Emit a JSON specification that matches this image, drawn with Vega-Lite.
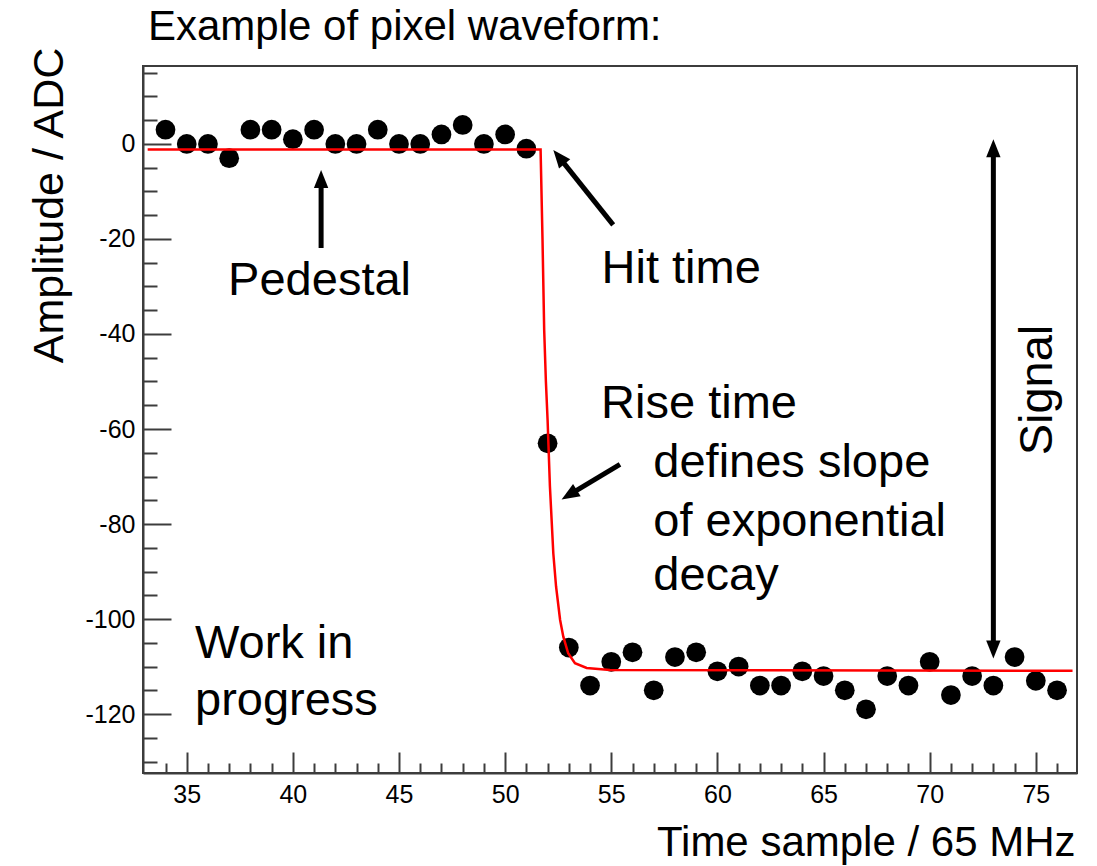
{
  "$schema": "https://vega.github.io/schema/vega-lite/v6.json",
  "width": 934,
  "height": 707,
  "autosize": {"type": "none"},
  "padding": {"left": 143, "top": 66, "right": 20, "bottom": 93},
  "background": "white",
  "config": {
    "view": {"stroke": "#3c3c3c", "strokeWidth": 2},
    "font": "Liberation Sans"
  },
  "title": {
    "text": "Example of pixel waveform:",
    "anchor": "start",
    "frame": "group",
    "orient": "top",
    "fontSize": 42,
    "fontWeight": "normal",
    "font": "Liberation Sans",
    "color": "black",
    "baseline": "alphabetic",
    "offset": 6,
    "dx": 5,
    "dy": 42
  },
  "datasets": {
    "samples": [
      {"t": 34, "adc": 3}, {"t": 35, "adc": 0}, {"t": 36, "adc": 0}, {"t": 37, "adc": -3},
      {"t": 38, "adc": 3}, {"t": 39, "adc": 3}, {"t": 40, "adc": 1}, {"t": 41, "adc": 3},
      {"t": 42, "adc": 0}, {"t": 43, "adc": 0}, {"t": 44, "adc": 3}, {"t": 45, "adc": 0},
      {"t": 46, "adc": 0}, {"t": 47, "adc": 2}, {"t": 48, "adc": 4}, {"t": 49, "adc": 0},
      {"t": 50, "adc": 2}, {"t": 51, "adc": -1}, {"t": 52, "adc": -63}, {"t": 53, "adc": -106},
      {"t": 54, "adc": -114}, {"t": 55, "adc": -109}, {"t": 56, "adc": -107}, {"t": 57, "adc": -115},
      {"t": 58, "adc": -108}, {"t": 59, "adc": -107}, {"t": 60, "adc": -111}, {"t": 61, "adc": -110},
      {"t": 62, "adc": -114}, {"t": 63, "adc": -114}, {"t": 64, "adc": -111}, {"t": 65, "adc": -112},
      {"t": 66, "adc": -115}, {"t": 67, "adc": -119}, {"t": 68, "adc": -112}, {"t": 69, "adc": -114},
      {"t": 70, "adc": -109}, {"t": 71, "adc": -116}, {"t": 72, "adc": -112}, {"t": 73, "adc": -114},
      {"t": 74, "adc": -108}, {"t": 75, "adc": -113}, {"t": 76, "adc": -115}
    ],
    "fit": [
      {"t": 33.16, "adc": -1.2}, {"t": 51.67, "adc": -1.2}, {"t": 51.76, "adc": -20},
      {"t": 51.84, "adc": -39.2}, {"t": 51.92, "adc": -50}, {"t": 52.0, "adc": -58.1},
      {"t": 52.11, "adc": -72.1}, {"t": 52.27, "adc": -86.2}, {"t": 52.4, "adc": -93.2},
      {"t": 52.59, "adc": -100.2}, {"t": 52.74, "adc": -103.7}, {"t": 52.97, "adc": -107.2},
      {"t": 53.29, "adc": -109.3}, {"t": 53.84, "adc": -110.3}, {"t": 54.94, "adc": -110.7},
      {"t": 76.73, "adc": -110.9}
    ],
    "shafts": [
      {"name": "pedestal", "t": 41.33, "adc": -21.9, "t2": 41.33, "adc2": -8.5},
      {"name": "hit", "t": 55.09, "adc": -17.05, "t2": 52.71, "adc2": -3.73},
      {"name": "rise", "t": 55.41, "adc": -67.43, "t2": 53.27, "adc2": -73.2},
      {"name": "signal", "t": 73.0, "adc": -2.4, "t2": 73.0, "adc2": -104.9}
    ],
    "heads": [
      {"name": "pedestal", "dir": "up", "t": 41.33, "adc": -5.5},
      {"name": "signal top", "dir": "up", "t": 73.0, "adc": 1.0},
      {"name": "signal bottom", "dir": "down", "t": 73.0, "adc": -108.3},
      {"name": "hit", "dir": "upleft", "t": 52.27, "adc": -1.26},
      {"name": "rise", "dir": "downleft", "t": 52.66, "adc": -74.85}
    ],
    "labels": [
      {"label": "Pedestal", "t": 36.95, "adc": -31.8},
      {"label": "Hit time", "t": 54.54, "adc": -29.3},
      {"label": "Rise time", "t": 54.52, "adc": -57.7},
      {"label": "defines slope", "t": 56.98, "adc": -70.0},
      {"label": "of exponential", "t": 56.98, "adc": -82.5},
      {"label": "decay", "t": 56.98, "adc": -93.9},
      {"label": "Work in", "t": 35.39, "adc": -108.1},
      {"label": "progress", "t": 35.39, "adc": -120.2}
    ],
    "vlabels": [
      {"label": "Signal", "t": 75.74, "adc": -51.8}
    ]
  },
  "layer": [
    {
      "data": {"name": "samples"},
      "mark": {"type": "circle", "size": 390, "color": "black", "opacity": 1},
      "encoding": {
        "x": {
          "field": "t", "type": "quantitative",
          "scale": {"domain": [32.94, 76.94], "nice": false, "zero": false},
          "axis": {
            "orient": "bottom",
            "values": [35, 40, 45, 50, 55, 60, 65, 70, 75],
            "labelExpr": "toString(datum.value)",
            "tickSize": -21, "tickWidth": 2, "tickColor": "#3c3c3c",
            "domainColor": "#3c3c3c", "domainWidth": 2,
            "labelFontSize": 25, "labelColor": "black", "labelPadding": 30,
            "labelFont": "Liberation Sans", "labelFlush": false,
            "grid": false,
            "title": "Time sample / 65 MHz",
            "titleFont": "Liberation Sans", "titleFontSize": 42, "titleFontWeight": "normal",
            "titleColor": "black", "titleX": 932, "titleY": 82,
            "titleAlign": "right", "titleBaseline": "alphabetic"
          }
        },
        "y": {
          "field": "adc", "type": "quantitative",
          "scale": {"domain": [-132.4, 16.4], "nice": false, "zero": false},
          "axis": {
            "orient": "left",
            "values": [-120, -100, -80, -60, -40, -20, 0],
            "labelExpr": "toString(datum.value)",
            "tickSize": -28, "tickWidth": 2, "tickColor": "#3c3c3c",
            "domainColor": "#3c3c3c", "domainWidth": 2,
            "labelFontSize": 25, "labelColor": "black", "labelPadding": 36,
            "labelFont": "Liberation Sans", "labelFlush": false,
            "grid": false,
            "title": "Amplitude / ADC",
            "titleFont": "Liberation Sans", "titleFontSize": 43, "titleFontWeight": "normal",
            "titleColor": "black", "titleX": -81, "titleY": 139, "titleAngle": 270,
            "titleAlign": "center", "titleBaseline": "alphabetic"
          }
        }
      }
    },
    {
      "data": {"name": "fit"},
      "mark": {"type": "line", "color": "#ff0000", "strokeWidth": 2.5},
      "encoding": {
        "x": {
          "field": "t", "type": "quantitative",
          "axis": {
            "orient": "bottom",
            "values": [34, 36, 37, 38, 39, 41, 42, 43, 44, 46, 47, 48, 49, 51, 52, 53, 54, 56, 57, 58, 59, 61, 62, 63, 64, 66, 67, 68, 69, 71, 72, 73, 74, 76],
            "tickSize": -10, "tickWidth": 2, "tickColor": "#3c3c3c",
            "labels": false, "domain": false, "grid": false, "title": null
          }
        },
        "y": {
          "field": "adc", "type": "quantitative",
          "axis": {
            "orient": "left",
            "values": [-130, -125, -115, -110, -105, -95, -90, -85, -75, -70, -65, -55, -50, -45, -35, -30, -25, -15, -10, -5, 5, 10, 15],
            "tickSize": -14, "tickWidth": 2, "tickColor": "#3c3c3c",
            "labels": false, "domain": false, "grid": false, "title": null
          }
        }
      }
    },
    {
      "data": {"name": "shafts"},
      "mark": {"type": "rule", "color": "black", "strokeWidth": 5, "strokeCap": "butt"},
      "encoding": {
        "x": {"field": "t", "type": "quantitative", "axis": null},
        "y": {"field": "adc", "type": "quantitative", "axis": null},
        "x2": {"field": "t2"},
        "y2": {"field": "adc2"}
      }
    },
    {
      "data": {"name": "heads"},
      "transform": [{"filter": "datum.dir === 'up'"}],
      "mark": {"type": "point", "shape": "M0,0L-0.8,2L0.8,2Z", "size": 324, "filled": true, "color": "black", "opacity": 1, "angle": 0},
      "encoding": {
        "x": {"field": "t", "type": "quantitative", "axis": null},
        "y": {"field": "adc", "type": "quantitative", "axis": null}
      }
    },
    {
      "data": {"name": "heads"},
      "transform": [{"filter": "datum.dir === 'down'"}],
      "mark": {"type": "point", "shape": "M0,0L-0.8,2L0.8,2Z", "size": 324, "filled": true, "color": "black", "opacity": 1, "angle": 180},
      "encoding": {
        "x": {"field": "t", "type": "quantitative", "axis": null},
        "y": {"field": "adc", "type": "quantitative", "axis": null}
      }
    },
    {
      "data": {"name": "heads"},
      "transform": [{"filter": "datum.dir === 'upleft'"}],
      "mark": {"type": "point", "shape": "M0,0L-0.8,2L0.8,2Z", "size": 324, "filled": true, "color": "black", "opacity": 1, "angle": 321},
      "encoding": {
        "x": {"field": "t", "type": "quantitative", "axis": null},
        "y": {"field": "adc", "type": "quantitative", "axis": null}
      }
    },
    {
      "data": {"name": "heads"},
      "transform": [{"filter": "datum.dir === 'downleft'"}],
      "mark": {"type": "point", "shape": "M0,0L-0.8,2L0.8,2Z", "size": 324, "filled": true, "color": "black", "opacity": 1, "angle": 238},
      "encoding": {
        "x": {"field": "t", "type": "quantitative", "axis": null},
        "y": {"field": "adc", "type": "quantitative", "axis": null}
      }
    },
    {
      "data": {"name": "labels"},
      "mark": {"type": "text", "font": "Liberation Sans", "fontSize": 47, "align": "left", "baseline": "alphabetic", "color": "black"},
      "encoding": {
        "x": {"field": "t", "type": "quantitative", "axis": null},
        "y": {"field": "adc", "type": "quantitative", "axis": null},
        "text": {"field": "label"}
      }
    },
    {
      "data": {"name": "vlabels"},
      "mark": {"type": "text", "font": "Liberation Sans", "fontSize": 47, "align": "center", "baseline": "alphabetic", "angle": 270, "color": "black"},
      "encoding": {
        "x": {"field": "t", "type": "quantitative", "axis": null},
        "y": {"field": "adc", "type": "quantitative", "axis": null},
        "text": {"field": "label"}
      }
    }
  ],
  "resolve": {"axis": {"x": "independent", "y": "independent"}}
}
